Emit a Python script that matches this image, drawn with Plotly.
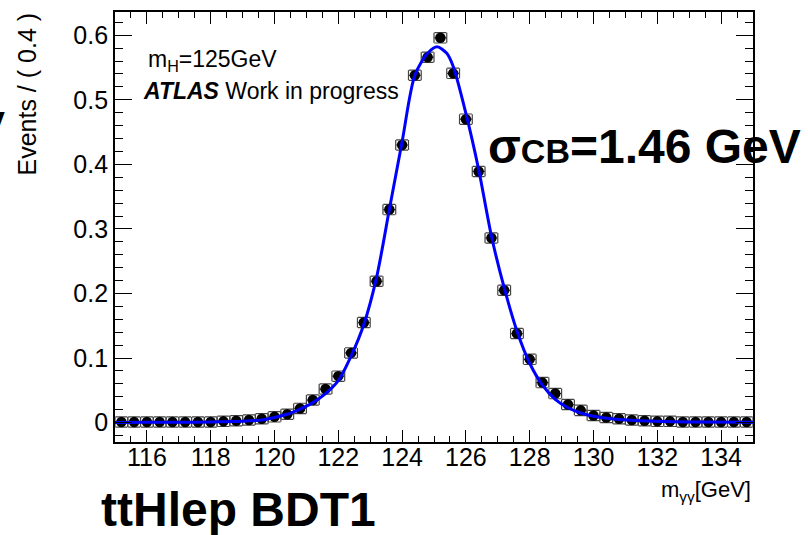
import numpy as np
import plotly.graph_objects as go

# ---- data: bin centres (0.4 GeV bins) and contents ----
bin_centers = [115.2, 115.6, 116.0, 116.4, 116.8, 117.2, 117.6, 118.0, 118.4, 118.8,
               119.2, 119.6, 120.0, 120.4, 120.8, 121.2, 121.6, 122.0, 122.4, 122.8,
               123.2, 123.6, 124.0, 124.4, 124.8, 125.2, 125.6, 126.0, 126.4, 126.8,
               127.2, 127.6, 128.0, 128.4, 128.8, 129.2, 129.6, 130.0, 130.4, 130.8,
               131.2, 131.6, 132.0, 132.4, 132.8, 133.2, 133.6, 134.0, 134.4, 134.8]
events = [0.001, 0.001, 0.001, 0.001, 0.001, 0.001, 0.001, 0.001, 0.002, 0.003,
          0.004, 0.006, 0.009, 0.013, 0.022, 0.035, 0.052, 0.072, 0.108, 0.155,
          0.219, 0.330, 0.430, 0.538, 0.566, 0.596, 0.541, 0.470, 0.389, 0.286,
          0.205, 0.138, 0.098, 0.062, 0.045, 0.028, 0.019, 0.011, 0.008, 0.006,
          0.004, 0.003, 0.002, 0.002, 0.001, 0.001, 0.001, 0.001, 0.001, 0.001]
x_err = [0.2] * len(bin_centers)
y_err = [0.008] * len(bin_centers)

fit_x = [115.0, 116.0, 117.0, 118.0, 118.5, 119.0, 119.6, 120.0, 120.4, 120.8,
         121.2, 121.6, 122.0, 122.4, 122.8, 123.2, 123.6, 124.0, 124.4, 124.8,
         125.1, 125.4, 125.6, 126.0, 126.4, 126.8, 127.2, 127.6, 128.0, 128.4,
         128.8, 129.2, 129.6, 130.0, 130.8, 131.5, 132.5, 133.5, 135.0]
fit_y = [0.0003, 0.0004, 0.0006, 0.001, 0.0015, 0.0022, 0.004, 0.008, 0.013, 0.021,
         0.031, 0.045, 0.065, 0.103, 0.152, 0.225, 0.330, 0.435, 0.538, 0.572,
         0.582, 0.572, 0.552, 0.479, 0.392, 0.289, 0.209, 0.142, 0.092, 0.058,
         0.036, 0.023, 0.015, 0.010, 0.005, 0.003, 0.0015, 0.0008, 0.0004]

x_range = [115, 135]
y_range = [-0.030, 0.636]
x_ticks = [116, 118, 120, 122, 124, 126, 128, 130, 132, 134]
y_ticks = [0, 0.1, 0.2, 0.3, 0.4, 0.5, 0.6]
y_ticklabels = ["0", "0.1", "0.2", "0.3", "0.4", "0.5", "0.6"]

FONT = "Liberation Sans, Arial, Helvetica, sans-serif"

fig = go.Figure()
fig.add_trace(go.Scatter(
    x=bin_centers, y=events, mode="markers",
    marker=dict(symbol="circle", size=10.5, color="black"),
    error_x=dict(type="data", array=x_err, visible=True, color="#444444",
                 thickness=1.2, width=5),
    error_y=dict(type="data", array=y_err, visible=True, color="#444444",
                 thickness=1.2, width=6),
    showlegend=False, hoverinfo="skip"))
fig.add_trace(go.Scatter(
    x=fit_x, y=fit_y, mode="lines",
    line=dict(color="#0000ff", width=3, shape="spline", smoothing=0.8),
    showlegend=False, hoverinfo="skip"))

fig.update_xaxes(
    range=x_range, tickvals=x_ticks, ticktext=[str(v) for v in x_ticks],
    ticks="inside", ticklen=12, tickwidth=1.3, tickcolor="black",
    minor=dict(ticks="inside", ticklen=6, dtick=0.5, tick0=115, tickcolor="black", tickwidth=1.2),
    showline=True, linecolor="black", linewidth=1.8, mirror="ticks",
    showgrid=False, zeroline=False, ticklabelstandoff=-8,
    tickfont=dict(family=FONT, size=25, color="black"))
fig.update_yaxes(
    range=y_range, tickvals=y_ticks, ticktext=y_ticklabels,
    ticks="inside", ticklen=17, tickwidth=1.3, tickcolor="black",
    minor=dict(ticks="inside", ticklen=8, dtick=0.02, tick0=0, tickcolor="black", tickwidth=1.2),
    showline=True, linecolor="black", linewidth=1.8, mirror="ticks",
    showgrid=False, zeroline=False,
    tickfont=dict(family=FONT, size=25, color="black"))

def py(p):
    return (442 - p) / 432.0

def px(p):
    return (p - 115) / 638.0

ann = [
    dict(text="m<sub>H</sub>=125GeV", x=px(146), y=py(59), xanchor="left", yanchor="middle",
         font=dict(family=FONT, size=23, color="black")),
    dict(text="<b><i>ATLAS</i></b> Work in progress", x=px(141), y=py(89), xanchor="left",
         yanchor="middle", font=dict(family=FONT, size=23, color="black")),
    dict(text="σ<span style='font-size:34px'>CB</span>=1.46 GeV", x=px(486), y=py(145),
         xanchor="left", yanchor="middle", font=dict(family=FONT, size=48, color="black",
                                                     weight="bold")),
    dict(text="<b>ttHlep BDT1</b>", x=px(99), y=py(510), xanchor="left", yanchor="middle",
         font=dict(family=FONT, size=48, color="black")),
    dict(text="m<sub>γγ</sub>[GeV]", x=1.0, y=py(491), xanchor="right", yanchor="middle",
         font=dict(family=FONT, size=22, color="black")),
    dict(text="Events / ( 0.4 )", x=px(27), y=py(9), xanchor="center", yanchor="top",
         textangle=-90, font=dict(family=FONT, size=25, color="black")),
    dict(text="<b>GeV</b>", x=px(7), y=py(127), xanchor="right", yanchor="middle",
         font=dict(family=FONT, size=48, color="black")),
]
for a in ann:
    a.update(xref="paper", yref="paper", showarrow=False)

fig.update_layout(
    width=808, height=535, autosize=False,
    margin=dict(l=115, r=55, t=10, b=93),
    paper_bgcolor="white", plot_bgcolor="white",
    annotations=ann)

fig.write_html("out.html")
